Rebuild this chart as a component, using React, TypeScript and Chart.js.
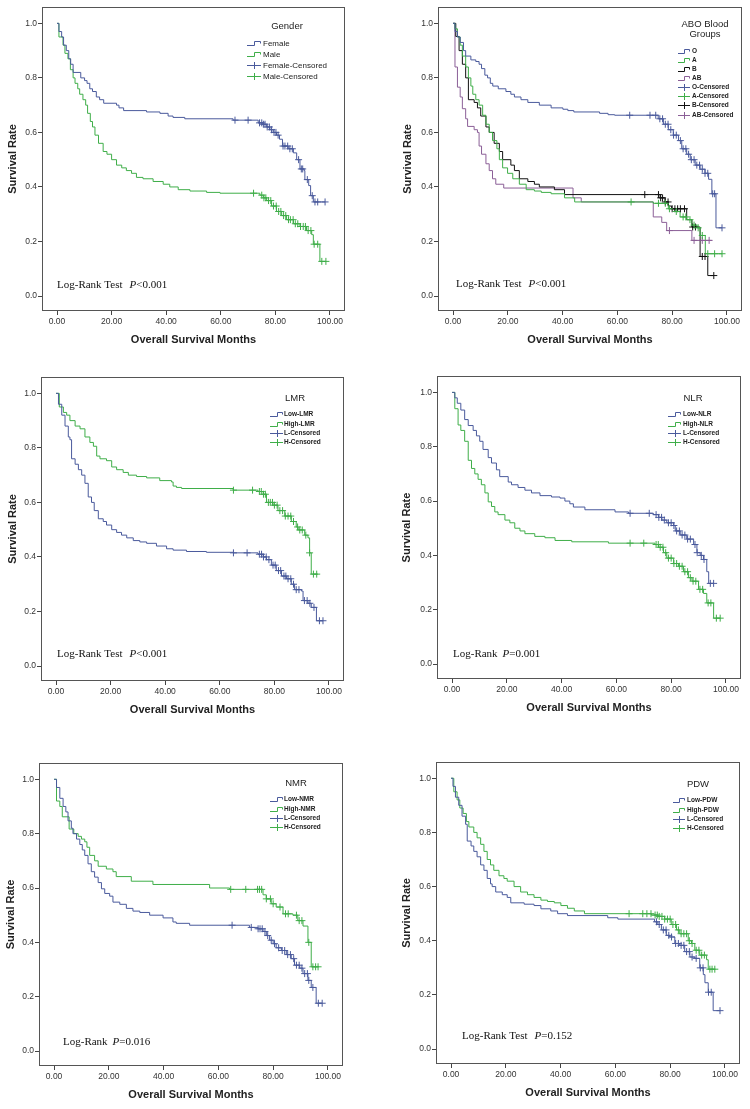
import React, { useEffect, useRef } from "react";
import { Chart, registerables } from "chart.js";
Chart.register(...registerables);

type Pt = [number, number];

const xTickValues = [0, 20, 40, 60, 80, 100];
const yTickValues = [0, 0.2, 0.4, 0.6, 0.8, 1.0];

const BLUE = "#4a5a9c";
const GREEN = "#3fae49";
const BLACK = "#111111";
const PURPLE = "#8b5f97";

// ---------- Gender ----------
const femaleCurve: Pt[] = [[0,1],[0.7,0.97],[1.7,0.95],[2.4,0.92],[3.4,0.9],[4.3,0.87],[5.0,0.85],[5.9,0.82],[8.7,0.8],[10.1,0.79],[11,0.78],[12,0.76],[13,0.75],[14.4,0.73],[15.6,0.72],[17.1,0.707],[21.8,0.7],[22.7,0.69],[24.4,0.68],[32.8,0.675],[37.7,0.67],[40.7,0.66],[42.5,0.655],[46.8,0.65],[64.5,0.645],[73.7,0.635],[75.5,0.63],[76.8,0.62],[78,0.61],[79.2,0.6],[80.4,0.59],[81.5,0.575],[82.6,0.55],[84.7,0.54],[86.6,0.525],[87.8,0.5],[89,0.466],[90.5,0.46],[90.8,0.427],[92.2,0.405],[92.9,0.368],[93.9,0.345],[98.2,0.345]];
const femaleCens = [65.2,70,74.2,75,75.6,76.2,77,77.8,78.6,79.5,80.2,81,82.8,83.5,84.5,85.3,86.2,88.5,89.5,90,91.7,93.5,94.5,95.5,98.2];
const maleCurve: Pt[] = [[0,1],[0.7,0.95],[2.2,0.92],[2.9,0.89],[4.0,0.87],[4.9,0.83],[5.9,0.8],[6.6,0.78],[7.6,0.76],[8.3,0.74],[9.5,0.72],[10.5,0.7],[11.2,0.67],[12.2,0.64],[13,0.62],[13.9,0.59],[15.2,0.56],[16.9,0.53],[18.3,0.52],[20,0.5],[21.8,0.48],[23.7,0.47],[25.4,0.46],[27.3,0.45],[29.1,0.435],[31.5,0.43],[35.2,0.42],[38.9,0.41],[41.3,0.4],[44.4,0.39],[48.7,0.385],[54.8,0.38],[59.7,0.377],[74.3,0.37],[75.6,0.36],[76.8,0.35],[78.6,0.33],[80.4,0.31],[82.3,0.295],[84.1,0.28],[86.6,0.265],[89,0.255],[91.4,0.24],[93.3,0.225],[93.9,0.19],[96.3,0.127],[98.5,0.127]];
const maleCens = [72,75,75.8,76.5,77.5,78.3,79.3,80.3,81.2,82,83,83.8,84.8,85.5,86.5,87.3,88.2,89.2,90.2,91,92,93,94.2,95.5,97,98.5];

// ---------- ABO ----------
const oCurve: Pt[] = [[0,1],[0.7,0.97],[1.6,0.95],[2.6,0.93],[3.8,0.9],[4.6,0.88],[6.5,0.866],[8.3,0.86],[9.5,0.85],[10.4,0.834],[11.6,0.81],[12.6,0.8],[13.6,0.78],[14.5,0.77],[16.5,0.76],[19.3,0.75],[21.1,0.74],[22.4,0.73],[24.8,0.72],[27.3,0.71],[31.5,0.7],[35.8,0.69],[40.1,0.685],[41.9,0.68],[44.1,0.675],[53.5,0.67],[56.6,0.665],[59,0.663],[74.9,0.65],[76.8,0.63],[78.6,0.61],[80.4,0.59],[82.3,0.57],[83.5,0.54],[85.3,0.52],[86.6,0.5],[88.4,0.48],[90.2,0.465],[92,0.45],[93.3,0.428],[94.5,0.375],[96,0.25],[98.2,0.25]];
const oCens = [64.5,71.9,74,75.5,76.5,77.5,78.5,79.5,80.5,81.5,83,84,85,86,87,88,89,90,91,92,93,94.8,95.5,98.2];
const aCurve: Pt[] = [[0,1],[0.7,0.98],[1.6,0.95],[2.6,0.92],[3.4,0.88],[4.6,0.84],[5.6,0.8],[6.5,0.77],[7.2,0.74],[8.3,0.72],[9.5,0.7],[10.8,0.663],[12,0.63],[13.2,0.6],[14.4,0.57],[16,0.54],[16.9,0.5],[18.1,0.47],[19.9,0.45],[21.8,0.43],[24.2,0.41],[26.7,0.39],[29.7,0.385],[32.2,0.38],[35.8,0.375],[40.7,0.36],[44.4,0.345],[73.1,0.34],[78.6,0.32],[81,0.31],[82.9,0.29],[85.3,0.28],[87.2,0.26],[89,0.25],[90.2,0.222],[92.1,0.155],[98.2,0.155]];
const aCens = [65,75,77.5,79,81.5,84,85,86.5,88,89.5,91,93,95.5,98.2];
const bCurve: Pt[] = [[0,1],[1,0.952],[2.2,0.9],[3.4,0.85],[4.6,0.8],[5.6,0.72],[7.7,0.71],[8.9,0.69],[10.1,0.66],[12,0.62],[13.2,0.6],[15,0.56],[16.9,0.53],[18.1,0.5],[21.1,0.48],[22.4,0.46],[24.2,0.43],[27.3,0.42],[29.7,0.41],[31.5,0.4],[37,0.39],[40.7,0.372],[75.6,0.36],[77.4,0.345],[78.6,0.33],[79.8,0.32],[85.3,0.28],[87.2,0.253],[90.2,0.145],[93,0.075],[95.2,0.075]];
const bCens = [70,75,75.8,76.5,77.5,78.5,80,81,82,83,84.5,87.5,88.5,91,92,95.2];
const abCurve: Pt[] = [[0,1],[0.7,0.84],[1.6,0.766],[2.6,0.73],[3.4,0.687],[4.6,0.65],[5.3,0.622],[7.7,0.61],[8.9,0.6],[9.5,0.55],[10.4,0.52],[12,0.485],[13.2,0.46],[14.4,0.43],[15.6,0.41],[18.5,0.396],[43.8,0.36],[46.8,0.345],[73.1,0.29],[76.2,0.27],[78,0.24],[87.2,0.204],[94.5,0.204]];
const abCens = [79,88,91,93.5];

// ---------- LMR ----------
const lowLmrCurve: Pt[] = [[0,1],[0.9,0.96],[2.1,0.92],[3.3,0.88],[4.5,0.84],[5.1,0.83],[5.7,0.76],[7,0.74],[8.2,0.72],[9.4,0.7],[10.6,0.67],[11.8,0.62],[13,0.6],[14,0.57],[15.5,0.54],[17.3,0.53],[18.5,0.517],[20.4,0.5],[22.2,0.49],[24,0.48],[25.9,0.47],[28.3,0.46],[30.7,0.455],[33.2,0.45],[36.8,0.44],[40.5,0.43],[42.9,0.425],[47.8,0.42],[55.1,0.417],[64.9,0.415],[74,0.41],[75.9,0.4],[77.1,0.39],[78.9,0.37],[80.7,0.35],[82.6,0.33],[84.4,0.32],[86.2,0.3],[87.4,0.28],[89.9,0.275],[90.5,0.24],[92.3,0.23],[93.5,0.215],[95.4,0.166],[97.8,0.166]];
const lowLmrCens = [65,70,74.5,75.3,76,77,78,79.5,80.3,81.5,82.3,83.5,84.2,85,86,87,88,89,91,92,93,94.5,96.5,97.8];
const highLmrCurve: Pt[] = [[0,1],[1.2,0.95],[2.7,0.93],[3.9,0.92],[5.1,0.9],[7,0.88],[8.8,0.87],[10.6,0.84],[12.4,0.82],[13.7,0.806],[14.9,0.77],[16.1,0.76],[18.5,0.753],[20.4,0.73],[22.2,0.72],[24.6,0.71],[26.5,0.7],[29.5,0.695],[33.2,0.69],[38,0.68],[42.3,0.675],[42.9,0.66],[44.1,0.655],[46,0.651],[64.9,0.645],[74,0.64],[75.9,0.63],[77.1,0.6],[79.5,0.59],[81.3,0.57],[83.8,0.55],[86.2,0.53],[88,0.51],[88.7,0.499],[91.1,0.48],[92.3,0.47],[92.9,0.415],[93.5,0.337],[96,0.337]];
const highLmrCens = [65,72,74.5,75.2,76,76.7,77.8,78.5,79.3,80,81,82,83,84,85,86,87,88.5,89.3,90.2,91.5,92.9,94.3,95.5];

// ---------- NLR ----------
const lowNlrCurve: Pt[] = [[0,1],[1,0.98],[1.9,0.96],[3.2,0.935],[4.6,0.9],[5.9,0.878],[7.7,0.86],[8.9,0.84],[10.1,0.82],[11.3,0.79],[13.2,0.76],[14.4,0.74],[16.2,0.715],[17.4,0.69],[20.5,0.67],[21.7,0.66],[24.1,0.65],[26.6,0.64],[29,0.63],[32.1,0.62],[36.3,0.615],[39.4,0.611],[41.2,0.6],[43,0.59],[44.3,0.578],[48.5,0.568],[59.5,0.56],[64.4,0.555],[73.5,0.55],[75.4,0.54],[76.6,0.53],[78.4,0.52],[80.9,0.51],[81.5,0.49],[83.3,0.475],[85.7,0.46],[88.2,0.44],[89.4,0.41],[90.6,0.4],[91.8,0.385],[93,0.34],[93.7,0.297],[95.5,0.297]];
const lowNlrCens = [65,72,74.5,75.5,76.5,77.5,79,80,81,82,83,84,85,86,87,88.7,89.5,91,92,94.3,95.5];
const highNlrCurve: Pt[] = [[0,1],[1,0.94],[2.2,0.88],[3.2,0.86],[4.6,0.82],[5.9,0.75],[7.1,0.72],[8.3,0.7],[9.5,0.68],[10.7,0.66],[12,0.63],[13.2,0.597],[14.4,0.58],[15.6,0.56],[16.8,0.55],[19.3,0.53],[21.1,0.52],[22.9,0.5],[24.8,0.49],[26.6,0.48],[30.2,0.47],[33.9,0.465],[37.6,0.455],[43.7,0.45],[57.1,0.445],[74.1,0.44],[75.4,0.43],[77.2,0.41],[78.4,0.39],[80.9,0.37],[82.7,0.36],[84.5,0.34],[86.3,0.318],[87.6,0.305],[90,0.275],[91.8,0.26],[93,0.225],[95.5,0.169],[97.9,0.169]];
const highNlrCens = [65,70,74.5,75.3,76,77,78,79,80,81,82,83,84,85,86,87,88,89,90.5,91.5,93.5,94.5,96.5,97.9];

// ---------- NMR ----------
const lowNmrCurve: Pt[] = [[0,1],[0.9,0.97],[2.1,0.93],[3.3,0.9],[4.3,0.88],[5.1,0.847],[6.3,0.82],[6.9,0.8],[8.2,0.78],[9.4,0.76],[10.3,0.74],[11.2,0.72],[12.4,0.689],[13.6,0.66],[14.8,0.64],[16.1,0.62],[17.3,0.597],[18.5,0.58],[20.3,0.57],[21.5,0.548],[24,0.54],[26.4,0.525],[28.8,0.515],[31.3,0.51],[34.9,0.5],[39.8,0.49],[43.4,0.475],[44.6,0.47],[49.5,0.463],[71.4,0.455],[74.5,0.45],[76.3,0.44],[77.5,0.425],[78.7,0.408],[80,0.395],[81.1,0.38],[83,0.37],[84.8,0.355],[86.6,0.34],[87.8,0.316],[89.7,0.305],[90.9,0.285],[92.7,0.26],[93.9,0.234],[95.7,0.176],[97.9,0.176]];
const lowNmrCens = [65,72,74.5,75.2,76,77,78,79.3,80.5,82,83.3,84.2,85.3,86.3,87.5,88.5,89.5,90.5,91.5,92.5,93,94.5,96.5,97.9];
const highNmrCurve: Pt[] = [[0,1],[0.9,0.92],[2.1,0.9],[3,0.862],[5.5,0.817],[7.2,0.8],[8.8,0.79],[10,0.78],[11.2,0.77],[12,0.75],[13,0.72],[14.8,0.7],[16.1,0.68],[19.1,0.67],[21.5,0.66],[22.7,0.642],[28.2,0.625],[36.1,0.613],[56.8,0.6],[64.1,0.595],[76.3,0.575],[77.5,0.56],[79.3,0.542],[81.1,0.53],[83.6,0.505],[87.2,0.5],[89,0.48],[90.9,0.46],[92.7,0.4],[93.9,0.31],[96.4,0.31]];
const highNmrCens = [64.5,70,74.3,75,75.8,77.5,79,80,82.5,84.5,85.5,88.5,89.5,90.5,93,94.5,95.5,96.4];

// ---------- PDW ----------
const lowPdwCurve: Pt[] = [[0,1],[0.7,0.97],[1.6,0.93],[2.8,0.9],[4,0.86],[5.3,0.83],[5.9,0.768],[7.3,0.75],[8.3,0.73],[9.5,0.71],[10.8,0.68],[12,0.66],[13.2,0.63],[14.4,0.61],[15,0.6],[16.3,0.58],[18.7,0.57],[20.5,0.56],[21.8,0.54],[26.7,0.535],[30.3,0.53],[32.8,0.518],[36.4,0.51],[38.9,0.5],[42.5,0.493],[57.2,0.485],[60.9,0.48],[74.3,0.47],[75.5,0.46],[76.8,0.44],[78.6,0.42],[79.8,0.414],[81.7,0.39],[83.5,0.383],[85.3,0.36],[87.2,0.34],[89,0.335],[90.8,0.3],[92.1,0.275],[92.7,0.245],[93.9,0.21],[95.7,0.142],[98.2,0.142]];
const lowPdwCens = [75,76,77.5,78.5,79.5,80.5,82,83,84,85,86,87,88,89.5,91,92,94,95,98.2];
const highPdwCurve: Pt[] = [[0,1],[1,0.95],[2.2,0.92],[3.2,0.89],[4.4,0.87],[5.6,0.84],[6.5,0.82],[8.3,0.8],[9.5,0.78],[10.8,0.756],[12,0.73],[13.2,0.7],[14.4,0.68],[15.6,0.66],[17.5,0.64],[19.3,0.63],[20.5,0.62],[23,0.6],[25.4,0.58],[27.9,0.57],[30.3,0.56],[32.8,0.55],[35.2,0.545],[37.7,0.54],[40.1,0.53],[42.5,0.52],[45,0.51],[48.7,0.5],[73.1,0.495],[75.6,0.49],[78,0.48],[80.4,0.46],[82.3,0.44],[83.5,0.426],[86.6,0.4],[87.8,0.39],[89,0.365],[90.8,0.347],[93.3,0.33],[93.9,0.295],[96.3,0.295]];
const highPdwCens = [65,70,71.5,73,74.5,75.3,76,77,78,79,80,81,82,83,84,85,86,87,88,89.5,90.5,91.5,92.5,94.5,95.3,96.3];

interface SeriesDef { name: string; censName: string; color: string; curve: Pt[]; cens: number[] }
interface PanelDef {
  left: number; top: number; w: number; h: number;
  box: [number, number, number, number];
  yTitleX: number; xTitleY: number;
  legendTitle: string[]; legendTitleX: number; legendTitleY: number[];
  iconX0: number; iconX1: number; textX: number; rows: number[];
  itemFont: string; titleFont: string;
  noteX: number; noteY: number; notePrefix: string; noteGap: number; noteValue: string;
  series: SeriesDef[];
}

const SANS = '"Liberation Sans", Arial, sans-serif';
const SERIF = '"Liberation Serif", "Times New Roman", serif';
const SMALL = `bold 6.5px ${SANS}`;
const TITLE = `9.5px ${SANS}`;

const panels: PanelDef[] = [
  {
    left: 0, top: 0, w: 375, h: 370, box: [42, 7, 345, 311], yTitleX: 13, xTitleY: 340,
    legendTitle: ["Gender"], legendTitleX: 287, legendTitleY: [26],
    iconX0: 247, iconX1: 261, textX: 263, rows: [43, 54, 65, 76],
    itemFont: `8px ${SANS}`, titleFont: TITLE,
    noteX: 57, noteY: 288, notePrefix: "Log-Rank Test", noteGap: 7, noteValue: "<0.001",
    series: [
      { name: "Female", censName: "Female-Censored", color: BLUE, curve: femaleCurve, cens: femaleCens },
      { name: "Male", censName: "Male-Censored", color: GREEN, curve: maleCurve, cens: maleCens },
    ],
  },
  {
    left: 375, top: 0, w: 375, h: 370, box: [63, 7, 367, 311], yTitleX: 33, xTitleY: 340,
    legendTitle: ["ABO Blood", "Groups"], legendTitleX: 330, legendTitleY: [24, 34],
    iconX0: 303, iconX1: 315, textX: 317, rows: [51, 60, 69, 78, 87, 96, 105, 115],
    itemFont: SMALL, titleFont: TITLE,
    noteX: 81, noteY: 287, notePrefix: "Log-Rank Test", noteGap: 7, noteValue: "<0.001",
    series: [
      { name: "O", censName: "O-Censored", color: BLUE, curve: oCurve, cens: oCens },
      { name: "A", censName: "A-Censored", color: GREEN, curve: aCurve, cens: aCens },
      { name: "B", censName: "B-Censored", color: BLACK, curve: bCurve, cens: bCens },
      { name: "AB", censName: "AB-Censored", color: PURPLE, curve: abCurve, cens: abCens },
    ],
  },
  {
    left: 0, top: 370, w: 375, h: 370, box: [41, 7, 344, 311], yTitleX: 13, xTitleY: 340,
    legendTitle: ["LMR"], legendTitleX: 295, legendTitleY: [28],
    iconX0: 270, iconX1: 283, textX: 284, rows: [44, 54, 63, 72],
    itemFont: SMALL, titleFont: TITLE,
    noteX: 57, noteY: 287, notePrefix: "Log-Rank Test", noteGap: 7, noteValue: "<0.001",
    series: [
      { name: "Low-LMR", censName: "L-Censored", color: BLUE, curve: lowLmrCurve, cens: lowLmrCens },
      { name: "High-LMR", censName: "H-Censored", color: GREEN, curve: highLmrCurve, cens: highLmrCens },
    ],
  },
  {
    left: 375, top: 370, w: 375, h: 370, box: [62, 6, 366, 309], yTitleX: 32, xTitleY: 338,
    legendTitle: ["NLR"], legendTitleX: 318, legendTitleY: [28],
    iconX0: 293, iconX1: 306, textX: 308, rows: [44, 54, 63, 72],
    itemFont: SMALL, titleFont: TITLE,
    noteX: 78, noteY: 287, notePrefix: "Log-Rank", noteGap: 5, noteValue: "=0.001",
    series: [
      { name: "Low-NLR", censName: "L-Censored", color: BLUE, curve: lowNlrCurve, cens: lowNlrCens },
      { name: "High-NLR", censName: "H-Censored", color: GREEN, curve: highNlrCurve, cens: highNlrCens },
    ],
  },
  {
    left: 0, top: 740, w: 375, h: 369, box: [39, 23, 343, 326], yTitleX: 11, xTitleY: 355,
    legendTitle: ["NMR"], legendTitleX: 296, legendTitleY: [43],
    iconX0: 270, iconX1: 283, textX: 284, rows: [59, 69, 78, 87],
    itemFont: SMALL, titleFont: TITLE,
    noteX: 63, noteY: 305, notePrefix: "Log-Rank", noteGap: 5, noteValue: "=0.016",
    series: [
      { name: "Low-NMR", censName: "L-Censored", color: BLUE, curve: lowNmrCurve, cens: lowNmrCens },
      { name: "High-NMR", censName: "H-Censored", color: GREEN, curve: highNmrCurve, cens: highNmrCens },
    ],
  },
  {
    left: 375, top: 740, w: 375, h: 369, box: [61, 22, 365, 324], yTitleX: 32, xTitleY: 353,
    legendTitle: ["PDW"], legendTitleX: 323, legendTitleY: [44],
    iconX0: 298, iconX1: 310, textX: 312, rows: [60, 70, 79, 88],
    itemFont: SMALL, titleFont: TITLE,
    noteX: 87, noteY: 299, notePrefix: "Log-Rank Test", noteGap: 7, noteValue: "=0.152",
    series: [
      { name: "Low-PDW", censName: "L-Censored", color: BLUE, curve: lowPdwCurve, cens: lowPdwCens },
      { name: "High-PDW", censName: "H-Censored", color: GREEN, curve: highPdwCurve, cens: highPdwCens },
    ],
  },
];

function survAt(curve: Pt[], t: number): number {
  let s = curve[0][1];
  for (const [x, y] of curve) if (x <= t) s = y;
  return s;
}

function decorPlugin(p: PanelDef) {
  return {
    id: "kmDecor",
    afterDraw(chart: any) {
      const ctx: CanvasRenderingContext2D = chart.ctx;
      const a = chart.chartArea;
      ctx.save();
      ctx.strokeStyle = "#555555";
      ctx.lineWidth = 1;
      ctx.strokeRect(Math.round(a.left) + 0.5, Math.round(a.top) + 0.5, Math.round(a.right - a.left) - 1, Math.round(a.bottom - a.top) - 1);

      ctx.fillStyle = "#222222";
      ctx.font = p.titleFont;
      ctx.textAlign = "center";
      ctx.textBaseline = "middle";
      p.legendTitle.forEach((t, i) => ctx.fillText(t, p.legendTitleX, p.legendTitleY[i]));

      const items: { label: string; color: string; kind: "step" | "cens" }[] = [];
      p.series.forEach((s) => items.push({ label: s.name, color: s.color, kind: "step" }));
      p.series.forEach((s) => items.push({ label: s.censName, color: s.color, kind: "cens" }));
      ctx.textAlign = "left";
      ctx.font = p.itemFont;
      items.forEach((it, i) => {
        const y = Math.round(p.rows[i]) + 0.5;
        const x0 = p.iconX0, x1 = p.iconX1;
        ctx.strokeStyle = it.color;
        ctx.lineWidth = 1;
        ctx.beginPath();
        const xm = Math.round((x0 + x1) / 2) + 0.5;
        if (it.kind === "step") {
          ctx.moveTo(x0, y + 2);
          ctx.lineTo(xm, y + 2);
          ctx.lineTo(xm, y - 2);
          ctx.lineTo(x1 - 0.5, y - 2);
          ctx.lineTo(x1 - 0.5, y);
        } else {
          ctx.moveTo(x0, y);
          ctx.lineTo(x1, y);
          ctx.moveTo(xm, y - 3.5);
          ctx.lineTo(xm, y + 3.5);
        }
        ctx.stroke();
        ctx.fillStyle = "#222222";
        ctx.fillText(it.label, p.textX, p.rows[i] + 0.5);
      });

      ctx.fillStyle = "#111111";
      ctx.textBaseline = "alphabetic";
      ctx.font = `11px ${SERIF}`;
      ctx.fillText(p.notePrefix, p.noteX, p.noteY);
      let x = p.noteX + ctx.measureText(p.notePrefix).width + p.noteGap;
      ctx.font = `italic 11px ${SERIF}`;
      ctx.fillText("P", x, p.noteY);
      x += ctx.measureText("P").width;
      ctx.font = `11px ${SERIF}`;
      ctx.fillText(p.noteValue, x, p.noteY);
      ctx.restore();
    },
  };
}

function KMPanel({ p }: { p: PanelDef }) {
  const ref = useRef<HTMLCanvasElement>(null);
  useEffect(() => {
    const canvas = ref.current;
    if (!canvas) return;
    const [L, T, R, B] = p.box;
    const datasets: any[] = [];
    p.series.forEach((s) => {
      datasets.push({
        label: s.name,
        data: s.curve.map(([x, y]) => ({ x, y })),
        borderColor: s.color,
        borderWidth: 1,
        stepped: "before",
        pointRadius: 0,
        fill: false,
        order: 2,
      });
    });
    p.series.forEach((s) => {
      datasets.push({
        label: s.censName,
        data: s.cens.map((t) => ({ x: t, y: survAt(s.curve, t) })),
        borderColor: s.color,
        backgroundColor: s.color,
        showLine: false,
        pointStyle: "cross",
        pointRadius: 3.5,
        pointBorderWidth: 1,
        order: 1,
      });
    });
    const tickFont = { family: SANS, size: 8.5 };
    const titleFont = { family: SANS, size: 11, weight: "bold" as const, lineHeight: 1.2 };
    const chart = new Chart(canvas, {
      type: "line",
      data: { datasets },
      options: {
        animation: false,
        responsive: false,
        events: [],
        layout: { autoPadding: false, padding: { left: 0, top: T, right: p.w - R, bottom: 0 } } as any,
        plugins: { legend: { display: false }, tooltip: { enabled: false } },
        scales: {
          x: {
            type: "linear",
            min: -5.5,
            max: 105.5,
            afterFit: (s: any) => { s.height = p.h - B; },
            afterBuildTicks: (s: any) => { s.ticks = xTickValues.map((v) => ({ value: v })); },
            ticks: { callback: (v: any) => Number(v).toFixed(2), font: tickFont, color: "#333", padding: 2, maxRotation: 0, autoSkip: false },
            grid: { drawOnChartArea: false, drawTicks: true, tickLength: 4, color: "#444" },
            border: { display: false },
            title: { display: true, text: "Overall Survival Months", font: titleFont, color: "#222", padding: { top: 0, bottom: p.h - p.xTitleY - 6.6 } },
          },
          y: {
            type: "linear",
            min: -0.055,
            max: 1.06,
            afterFit: (s: any) => { s.width = L; },
            afterBuildTicks: (s: any) => { s.ticks = yTickValues.map((v) => ({ value: v })); },
            ticks: { callback: (v: any) => Number(v).toFixed(1), font: tickFont, color: "#333", padding: 1, autoSkip: false },
            grid: { drawOnChartArea: false, drawTicks: true, tickLength: 4, color: "#444" },
            border: { display: false },
            title: { display: true, text: "Survival Rate", font: titleFont, color: "#222", padding: { top: p.yTitleX - 6.6, bottom: 0 } },
          },
        },
      } as any,
      plugins: [decorPlugin(p)],
    });
    return () => chart.destroy();
  }, [p]);
  return (
    <canvas
      ref={ref}
      width={p.w}
      height={p.h}
      style={{ position: "absolute", left: p.left, top: p.top, width: p.w, height: p.h, display: "block" }}
    />
  );
}

export default function App() {
  return (
    <div style={{ position: "absolute", left: 0, top: 0, width: 750, height: 1109, background: "#ffffff" }}>
      {panels.map((p, i) => (
        <KMPanel key={i} p={p} />
      ))}
    </div>
  );
}
